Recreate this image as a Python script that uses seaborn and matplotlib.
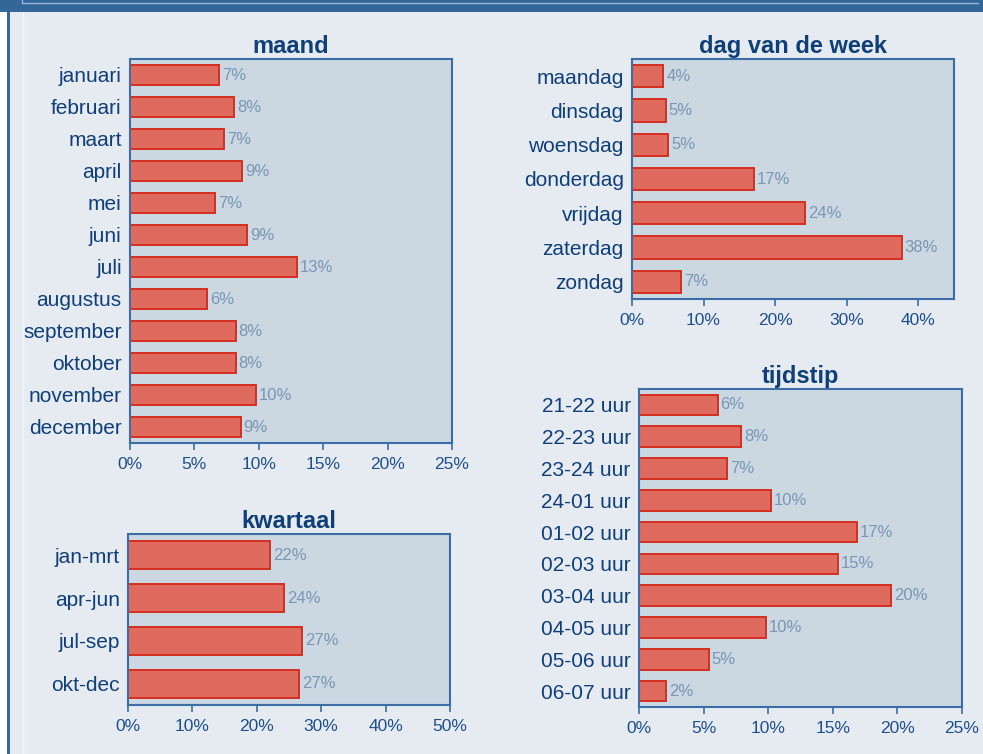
import matplotlib
matplotlib.use("Agg")
import matplotlib.pyplot as plt
from matplotlib.patches import Rectangle
from matplotlib.lines import Line2D
import seaborn as sns
import pandas as pd

# ---- data ----
maand_labels = ["januari", "februari", "maart", "april", "mei", "juni", "juli",
                "augustus", "september", "oktober", "november", "december"]
maand_values = [6.9, 8.1, 7.3, 8.7, 6.6, 9.1, 13.0, 6.0, 8.2, 8.2, 9.8, 8.6]

dag_labels = ["maandag", "dinsdag", "woensdag", "donderdag", "vrijdag", "zaterdag", "zondag"]
dag_values = [4.4, 4.7, 5.1, 17.1, 24.2, 37.7, 6.9]

kwartaal_labels = ["jan-mrt", "apr-jun", "jul-sep", "okt-dec"]
kwartaal_values = [22.1, 24.3, 27.0, 26.6]

tijd_labels = ["21-22 uur", "22-23 uur", "23-24 uur", "24-01 uur", "01-02 uur",
               "02-03 uur", "03-04 uur", "04-05 uur", "05-06 uur", "06-07 uur"]
tijd_values = [6.1, 7.9, 6.8, 10.2, 16.9, 15.4, 19.5, 9.8, 5.4, 2.1]

# ---- style ----
sns.set_theme(style="white")
plt.rcParams["font.family"] = ["Liberation Sans", "DejaVu Sans"]

W, H = 983, 754
BG = "#e6ebf2"
DARK = "#336699"
FACE = "#cbd8e2"
SPINE = "#3a6ea5"
BAR = "#df6a5e"
BAR_EDGE = "#d42e20"
TXT = "#0f3f78"
TICK_TXT = "#1d4f8b"
VAL_TXT = "#7b95b5"

fig = plt.figure(figsize=(W / 100, H / 100), dpi=100, facecolor=BG)


def frac_rect(x0, y0, x1, y1):
    return [x0 / W, 1 - y1 / H, (x1 - x0) / W, (y1 - y0) / H]


# frame decorations
fig.add_artist(Rectangle((0, 1 - 12 / H), 1, 12 / H, transform=fig.transFigure,
                         facecolor=DARK, edgecolor="none", zorder=0))
fig.add_artist(Rectangle((0, 0), 7 / W, 1 - 12 / H, transform=fig.transFigure,
                         facecolor="white", edgecolor="none", zorder=0))
fig.add_artist(Rectangle((7 / W, 0), 2.5 / W, 1 - 12 / H, transform=fig.transFigure,
                         facecolor=DARK, edgecolor="none", zorder=0))
fig.add_artist(Line2D([22 / W, 978 / W], [1 - 3 / H, 1 - 3 / H], transform=fig.transFigure,
                      color="#9db8d6", lw=1, zorder=1))
fig.add_artist(Line2D([22 / W, 22 / W], [1 - 3 / H, 1], transform=fig.transFigure,
                      color="#9db8d6", lw=1, zorder=1))
fig.add_artist(Line2D([22.5 / W, 22.5 / W], [0, 1 - 12 / H], transform=fig.transFigure,
                      color="#f2f5f9", lw=1, zorder=1))


def panel(rect, labels, values, xmax, step, title):
    ax = fig.add_axes(frac_rect(*rect))
    df = pd.DataFrame({"cat": labels, "pct": values})
    sns.barplot(data=df, x="pct", y="cat", ax=ax, orient="h", color=BAR,
                saturation=1, width=0.65, edgecolor=BAR_EDGE, linewidth=1.4)
    ax.set_facecolor(FACE)
    ax.set_xlim(0, xmax)
    ax.set_ylim(len(labels) - 0.5, -0.5)
    ticks = list(range(0, xmax + 1, step))
    ax.set_xticks(ticks)
    ax.set_xticklabels([f"{t}%" for t in ticks])
    ax.set_xlabel("")
    ax.set_ylabel("")
    for s in ax.spines.values():
        s.set_color(SPINE)
        s.set_linewidth(1.5)
        s.set_visible(True)
    ax.tick_params(axis="x", bottom=True, length=5, width=1.2, color=SPINE,
                   labelsize=12.5, labelcolor=TICK_TXT, pad=5)
    ax.tick_params(axis="y", left=False, length=0, labelsize=15,
                   labelcolor=TXT, pad=6)
    ax.grid(False)
    ax.set_title(title, fontsize=17, fontweight="bold", color=TXT, pad=4)
    for cont in ax.containers:
        ax.bar_label(cont, labels=[f"{round(v):.0f}%" for v in values],
                     padding=2, color=VAL_TXT, fontsize=12)
    return ax


panel((130, 59, 452, 443), maand_labels, maand_values, 25, 5, "maand")
panel((632, 59, 954, 299), dag_labels, dag_values, 45, 10, "dag van de week")
panel((128, 534, 450, 705), kwartaal_labels, kwartaal_values, 50, 10, "kwartaal")
panel((639, 389, 962, 707), tijd_labels, tijd_values, 25, 5, "tijdstip")

fig.savefig("out.png", dpi=100, facecolor=BG)
